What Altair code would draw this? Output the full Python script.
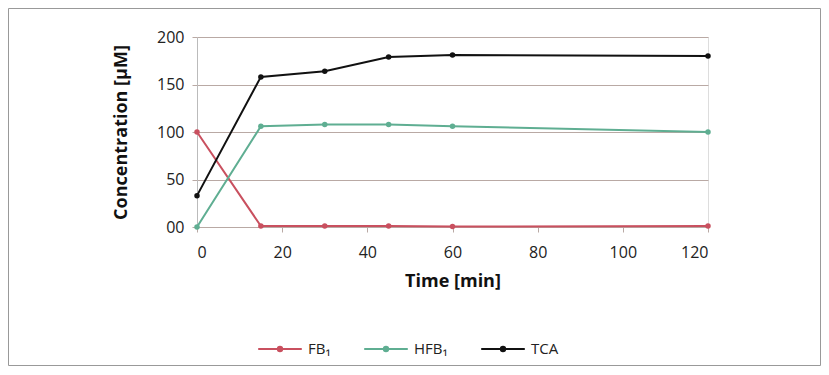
import altair as alt
import pandas as pd

times = [0, 15, 30, 45, 60, 120]
fb1 = [100, 1, 1, 1, 0.5, 1]
hfb1 = [0, 106, 108, 108, 106, 100]
tca = [33, 158, 164, 179, 181, 180]
series_names = ["FB₁", "HFB₁", "TCA"]
series_colors = ["#c9505f", "#5fae92", "#111111"]
x_ticks = [0, 20, 40, 60, 80, 100, 120]
y_ticks = [0, 50, 100, 150, 200]

rows = []
for name, vals in zip(series_names, [fb1, hfb1, tca]):
    for t, v in zip(times, vals):
        rows.append({"time": t, "value": v, "series": name})
df = pd.DataFrame(rows)

FONT = "Open Sans"

color_scale = alt.Scale(domain=series_names, range=series_colors)
color = alt.Color(
    "series:N",
    scale=color_scale,
    sort=series_names,
    legend=alt.Legend(
        title=None,
        orient="none",
        direction="horizontal",
        legendX=60,
        legendY=289,
        symbolType="M-1,0L1,0M-0.1,0a0.1,0.1 0 1,0 0.2,0a0.1,0.1 0 1,0 -0.2,0",
        symbolSize=1900,
        symbolStrokeWidth=2,
        labelFontSize=15,
        labelFont=FONT,
        labelColor="#222222",
        columnPadding=29,
        labelOffset=5,
    ),
)
color_nolegend = alt.Color("series:N", scale=color_scale, legend=None)

x = alt.X(
    "time:Q",
    scale=alt.Scale(domain=[0, 120], nice=False),
    axis=alt.Axis(
        values=x_ticks,
        title="Time [min]",
        grid=False,
        domain=False,
        tickSize=5,
        tickColor="#b9a9a4",
        labelFontSize=16,
        labelPadding=12,
        titlePadding=12,
        titleFontSize=18,
        titleFontWeight="bold",
        titleFont=FONT,
        labelFont=FONT,
        labelColor="#222222",
        titleColor="#111111",
    ),
)
y = alt.Y(
    "value:Q",
    scale=alt.Scale(domain=[0, 200], nice=False),
    axis=alt.Axis(
        values=y_ticks,
        title="Concentration [µM]",
        labelExpr="datum.value == 0 ? '00' : datum.label",
        grid=True,
        gridColor="#b9a9a4",
        gridWidth=1,
        domain=True,
        domainColor="#bbbbbb",
        ticks=True,
        tickSize=5,
        tickColor="#b9a9a4",
        labelFontSize=16,
        labelPadding=8,
        titlePadding=26,
        titleFontSize=18,
        titleFontWeight="bold",
        titleFont=FONT,
        labelFont=FONT,
        labelColor="#222222",
        titleColor="#111111",
    ),
)

base = alt.Chart(df)
lines = base.mark_line(strokeWidth=2).encode(x=x, y=y, color=color)
points = base.mark_point(filled=True, size=30, opacity=1).encode(
    x=x, y=y, color=color_nolegend
)

frame = alt.Chart(pd.DataFrame({"a": [0]})).mark_rect(
    fill=None, stroke="#999999", strokeWidth=1, clip=False
).encode(
    x=alt.value(-188.5), x2=alt.value(623.5), y=alt.value(-28.5), y2=alt.value(328.5)
)

chart = (
    alt.layer(frame, lines, points)
    .properties(
        width=511,
        height=190,
        autosize=alt.AutoSizeParams(type="none"),
        padding={"left": 189, "top": 29, "right": 113, "bottom": 140},
    )
    .configure_view(stroke=None)
    .configure(background="white")
)

chart.save("out.html", embed_options={"renderer": "svg", "actions": False})
